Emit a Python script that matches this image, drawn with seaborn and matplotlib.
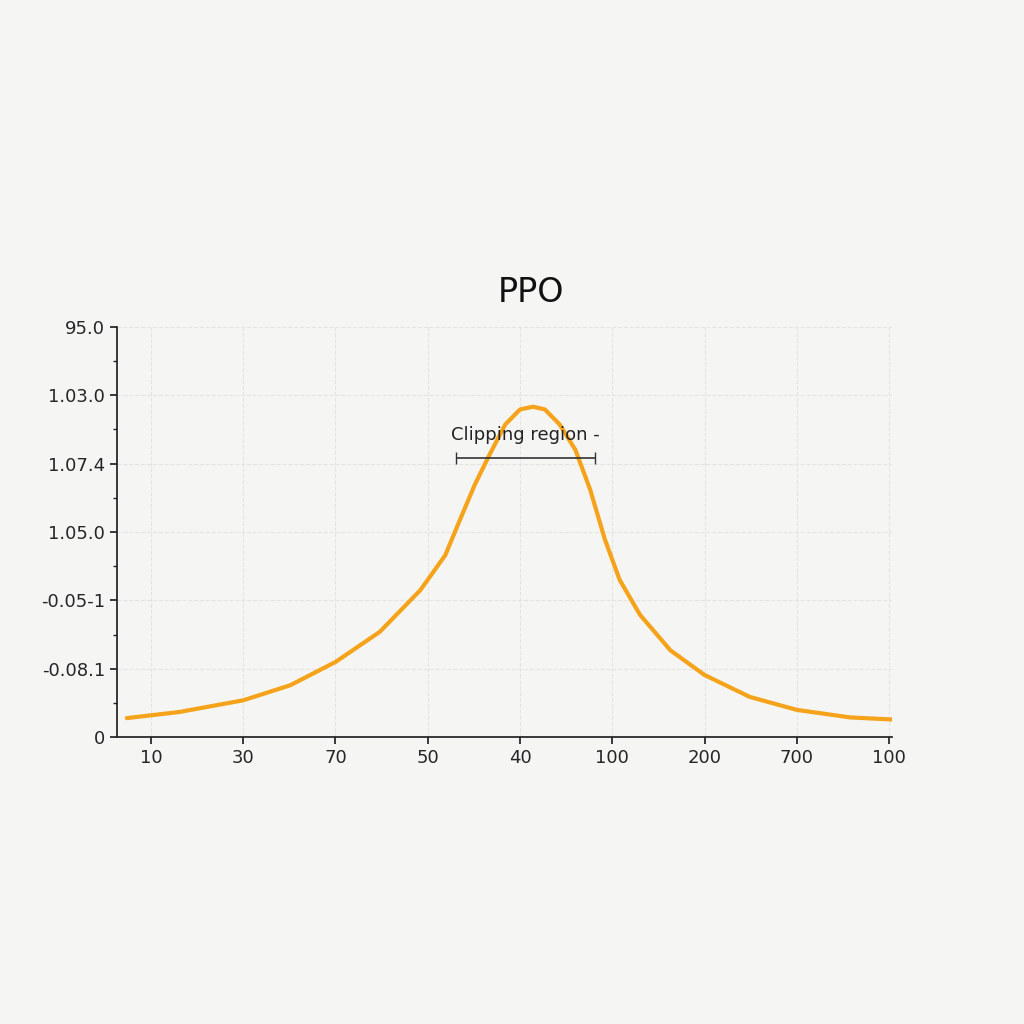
import matplotlib
matplotlib.use("Agg")
import matplotlib.pyplot as plt
import pandas as pd
import seaborn as sns

X_TICK_LABELS = ["10", "30", "70", "50", "40", "100", "200", "700", "100"]
Y_TICK_LABELS = ["0", "-0.08.1", "-0.05-1", "1.05.0", "1.07.4", "1.03.0", "95.0"]

curve_x = [-0.26, 0.31, 1.0, 1.51, 2.0, 2.48, 2.92, 3.19, 3.35, 3.51, 3.67,
           3.84, 4.0, 4.14, 4.27, 4.43, 4.60, 4.76, 4.92, 5.08, 5.30, 5.63,
           6.0, 6.49, 7.0, 7.58, 8.03]
curve_y = [0.28, 0.37, 0.54, 0.76, 1.10, 1.54, 2.15, 2.66, 3.18, 3.69, 4.13,
           4.57, 4.79, 4.83, 4.79, 4.57, 4.20, 3.62, 2.89, 2.30, 1.79, 1.27,
           0.91, 0.59, 0.40, 0.29, 0.26]

clip_start, clip_end, clip_level = 3.31, 4.81, 4.08


def main():
    sns.set_theme(style="white")
    plt.rcParams["font.family"] = ["DejaVu Sans"]
    bg = "#f5f5f4"
    fig = plt.figure(figsize=(10.24, 10.24), dpi=100, facecolor=bg)
    ax = fig.add_axes([0.114, 0.280, 0.757, 0.401], facecolor=bg)

    df = pd.DataFrame({"x": curve_x, "y": curve_y})
    sns.lineplot(data=df, x="x", y="y", ax=ax, color="#F5A31A", linewidth=3, sort=False)

    ax.errorbar([(clip_start + clip_end) / 2], [clip_level],
                xerr=[(clip_end - clip_start) / 2], color="#333333",
                linewidth=1.2, capsize=4)
    ax.text((clip_start + clip_end) / 2, clip_level + 0.2, "Clipping region -",
            ha="center", va="bottom", fontsize=13, color="#222222")

    ax.set_xlim(-0.37, 8.03)
    ax.set_ylim(0, 6)
    ax.set_xticks(range(len(X_TICK_LABELS)))
    ax.set_xticklabels(X_TICK_LABELS, fontsize=13)
    ax.set_yticks(range(len(Y_TICK_LABELS)))
    ax.set_yticklabels(Y_TICK_LABELS, fontsize=13)
    ax.set_yticks([i + 0.5 for i in range(6)], minor=True)
    ax.tick_params(axis="both", which="both", direction="out", length=5, color="#222222", left=True, bottom=True)
    ax.tick_params(axis="y", which="minor", length=3)
    ax.grid(True, linestyle="--", color="#e4e4e4", linewidth=0.8)
    ax.set_xlabel("")
    ax.set_ylabel("")
    for side in ["top", "right"]:
        ax.spines[side].set_visible(False)
    for side in ["left", "bottom"]:
        ax.spines[side].set_color("#222222")
    ax.set_title("PPO", fontsize=24, pad=18, color="#111111", x=0.535)

    fig.savefig("out.png", dpi=100, facecolor=bg)
    plt.close(fig)


if __name__ == "__main__":
    main()
